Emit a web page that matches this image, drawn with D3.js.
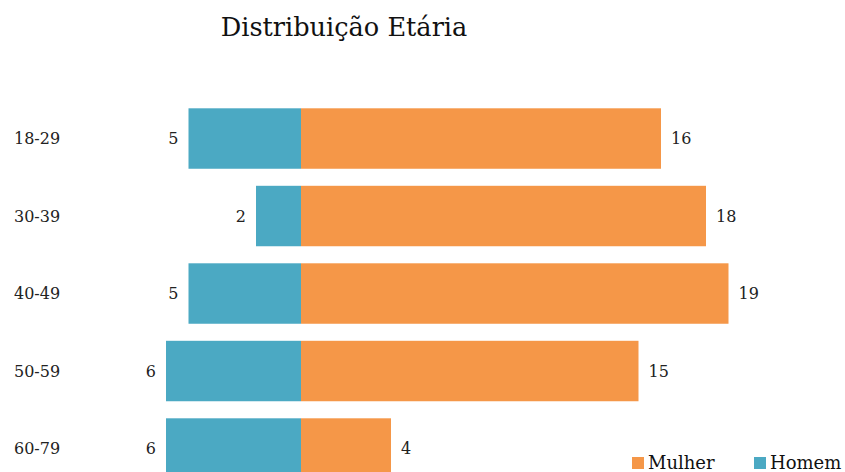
<!DOCTYPE html>
<html>
<head>
<meta charset="utf-8">
<script src="https://cdn.jsdelivr.net/npm/d3@7"></script>
<style>
	body{margin:0;background:#fff;overflow:hidden;}
	svg{display:block;font-family:Georgia,"DejaVu Serif",serif;}
</style>
</head>
<body>
<svg id="chart" width="845" height="472"></svg>
<script>
// faixas etárias (de cima para baixo)
var categories = ["18-29", "30-39", "40-49", "50-59", "60-79"];
var homem = [5, 2, 5, 6, 6];
var mulher = [16, 18, 19, 15, 4];
var legendLabels = ["Mulher", "Homem"];

var colors = {mulher: "#f59748", homem: "#4ba9c3"};
var center = 301;

var svg = d3.select("#chart");

var xRight = d3.scaleLinear().domain([0, 20]).range([center, center + 450]);
var xLeft = d3.scaleLinear().domain([0, 20]).range([center, center - 450]);
var y = d3.scaleBand().domain(categories).range([91.25, 495.8]).padding(0.22);

svg.append("text")
	.attr("x", 344).attr("y", 36)
	.attr("text-anchor", "middle")
	.attr("font-size", 25.6)
	.attr("fill", "#111")
	.text("Distribuição Etária");

// rotulos das categorias
svg.append("g").selectAll("text")
	.data(categories).enter().append("text")
	.attr("x", 14)
	.attr("y", function(d){ return y(d) + y.bandwidth()/2; })
	.attr("dy", "0.35em")
	.attr("font-size", 16)
	.attr("fill", "#222")
	.text(function(d){ return d; });

var rows = categories.map(function(c, i){
	return {cat: c, h: homem[i], m: mulher[i]};
});

// barras homem
svg.append("g").selectAll("rect")
	.data(rows).enter().append("rect")
	.attr("x", function(d){ return xLeft(d.h); })
	.attr("y", function(d){ return y(d.cat); })
	.attr("width", function(d){ return xLeft(0) - xLeft(d.h); })
	.attr("height", y.bandwidth())
	.attr("fill", colors.homem);

// barras mulher
svg.append("g").selectAll("rect")
	.data(rows).enter().append("rect")
	.attr("x", xRight(0))
	.attr("y", function(d){ return y(d.cat); })
	.attr("width", function(d){ return xRight(d.m) - xRight(0); })
	.attr("height", y.bandwidth())
	.attr("fill", colors.mulher);

// valores
svg.append("g").selectAll("text")
	.data(rows).enter().append("text")
	.attr("x", function(d){ return xLeft(d.h) - 10; })
	.attr("y", function(d){ return y(d.cat) + y.bandwidth()/2; })
	.attr("dy", "0.35em")
	.attr("text-anchor", "end")
	.attr("font-size", 16)
	.attr("fill", "#222")
	.text(function(d){ return d.h; });

svg.append("g").selectAll("text")
	.data(rows).enter().append("text")
	.attr("x", function(d){ return xRight(d.m) + 10; })
	.attr("y", function(d){ return y(d.cat) + y.bandwidth()/2; })
	.attr("dy", "0.35em")
	.attr("font-size", 16)
	.attr("fill", "#222")
	.text(function(d){ return d.m; });

// legenda
var legendX = [632, 754];
var leg = svg.append("g").selectAll("g")
	.data(legendLabels).enter().append("g")
	.attr("transform", function(d, i){ return "translate(" + legendX[i] + ",457)"; });
leg.append("rect")
	.attr("width", 12).attr("height", 12)
	.attr("fill", function(d){ return d == "Mulher" ? colors.mulher : colors.homem; });
leg.append("text")
	.attr("x", 16).attr("y", 12)
	.attr("font-size", 18)
	.attr("fill", "#111")
	.text(function(d){ return d; });
</script>
</body>
</html>
